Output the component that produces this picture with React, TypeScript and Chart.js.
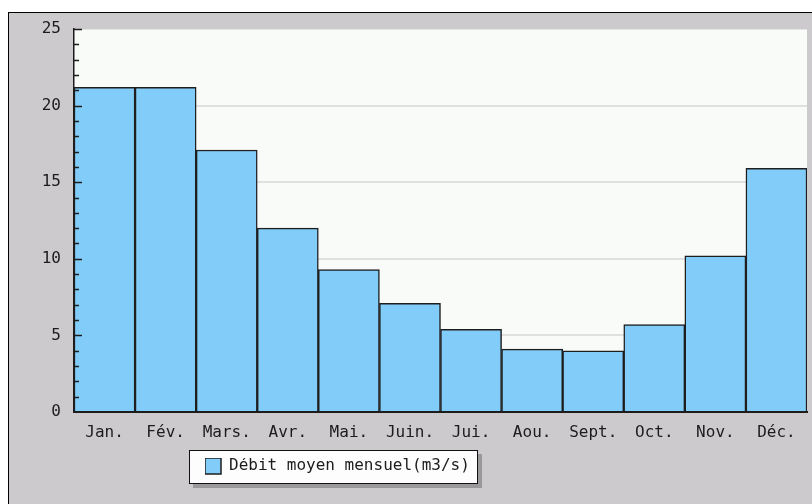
import React, { useEffect, useRef } from "react";
import { Chart, registerables } from "chart.js";

Chart.register(...registerables);

const months = ["Jan.", "Fév.", "Mars.", "Avr.", "Mai.", "Juin.", "Jui.", "Aou.", "Sept.", "Oct.", "Nov.", "Déc."];
const debit = [21.2, 21.2, 17.1, 12.0, 9.3, 7.1, 5.4, 4.1, 4.0, 5.7, 10.2, 15.9];
const seriesLabel = "Débit moyen mensuel(m3/s)";
const yMin = 0;
const yMax = 25;
const yMajorStep = 5;
const yMinorStep = 1;

const FONT = "'DejaVu Sans Mono', monospace";
const TEXT = "#1c1c1c";
const BAR_FILL = "#82ccfa";
const BAR_EDGE = "#1e1e1e";
const PLOT_BG = "#f9fbf9";
const PAGE_BG = "#cdcacd";

const decorPlugin = {
  id: "decor",
  afterLayout(chart: any) {
    const lg = chart.legend;
    if (!lg) return;
    const w = lg.width;
    const h = lg.height;
    lg.left = 196;
    lg.top = 445;
    lg.right = lg.left + w;
    lg.bottom = lg.top + h;
  },
  beforeDraw(chart: any) {
    const { ctx, chartArea } = chart;
    ctx.save();
    ctx.fillStyle = PLOT_BG;
    ctx.fillRect(chartArea.left, chartArea.top, chartArea.right - chartArea.left, chartArea.bottom - chartArea.top);
    // legend frame
    const fx = 180, fy = 437, fw = 289, fh = 34;
    ctx.fillStyle = "#9a989a";
    ctx.fillRect(fx + 4, fy + 4, fw, fh);
    ctx.fillStyle = "#fdfdfd";
    ctx.fillRect(fx, fy, fw, fh);
    ctx.strokeStyle = "#111";
    ctx.lineWidth = 1;
    ctx.strokeRect(fx + 0.5, fy + 0.5, fw - 1, fh - 1);
    ctx.restore();
  },
  afterDatasetsDraw(chart: any) {
    const { ctx, chartArea } = chart;
    const ys = chart.scales.y;
    ctx.save();
    ctx.strokeStyle = "#1c1c1c";
    ctx.lineWidth = 1.5;
    for (let v = yMin; v <= yMax; v += yMinorStep) {
      if (v === yMin) continue;
      const py = Math.round(ys.getPixelForValue(v)) + 0.5;
      const len = v % yMajorStep === 0 ? 8 : 5;
      ctx.beginPath();
      ctx.moveTo(chartArea.left, py);
      ctx.lineTo(chartArea.left + len, py);
      ctx.stroke();
    }
    ctx.restore();
  },
};

export default function App() {
  const ref = useRef<HTMLCanvasElement>(null);
  useEffect(() => {
    if (!ref.current) return;
    const chart = new Chart(ref.current, {
      type: "bar",
      data: {
        labels: months,
        datasets: [
          {
            label: seriesLabel,
            data: debit,
            backgroundColor: BAR_FILL,
            borderColor: BAR_EDGE,
            borderWidth: 1.5,
            categoryPercentage: 1,
            barPercentage: 1,
          },
        ],
      },
      options: {
        responsive: false,
        animation: false,
        layout: { padding: { top: 16, right: 5, left: 0, bottom: 0 } },
        plugins: {
          tooltip: { enabled: false },
          legend: {
            position: "chartArea",
            align: "start",
            labels: {
              boxWidth: 16,
              boxHeight: 16,
              padding: 0,
              color: TEXT,
              font: { family: FONT, size: 16 },
            },
          },
        },
        scales: {
          x: {
            grid: { display: false, drawTicks: false },
            border: { display: true, color: "#1c1c1c", width: 2 },
            ticks: { color: TEXT, font: { family: FONT, size: 16 }, padding: 11, maxRotation: 0, autoSkip: false },
            afterFit: (s: any) => {
              s.height = 92;
              s.paddingLeft = 0;
              s.paddingRight = 0;
            },
          },
          y: {
            min: yMin,
            max: yMax,
            grid: {
              color: (c: any) => (c.tick && c.tick.value === yMax ? "#e4e4e4" : "#e0e0e0"),
              lineWidth: (c: any) => (c.tick && c.tick.value === yMax ? 1 : 2),
              drawTicks: false,
            },
            border: { display: true, color: "#1c1c1c", width: 1.5 },
            ticks: { stepSize: yMajorStep, color: TEXT, font: { family: FONT, size: 16 }, padding: 13 },
            afterFit: (s: any) => {
              s.width = 65;
              s.paddingTop = 0;
              s.paddingBottom = 0;
            },
          },
        },
      },
      plugins: [decorPlugin],
    } as any);
    return () => chart.destroy();
  }, []);
  return (
    <div
      style={{
        position: "absolute",
        left: 8,
        top: 12,
        width: 804,
        height: 492,
        boxSizing: "border-box",
        borderLeft: "1px solid #000",
        borderTop: "1px solid #000",
        background: PAGE_BG,
      }}
    >
      <canvas ref={ref} width={803} height={491} style={{ display: "block" }} />
    </div>
  );
}
